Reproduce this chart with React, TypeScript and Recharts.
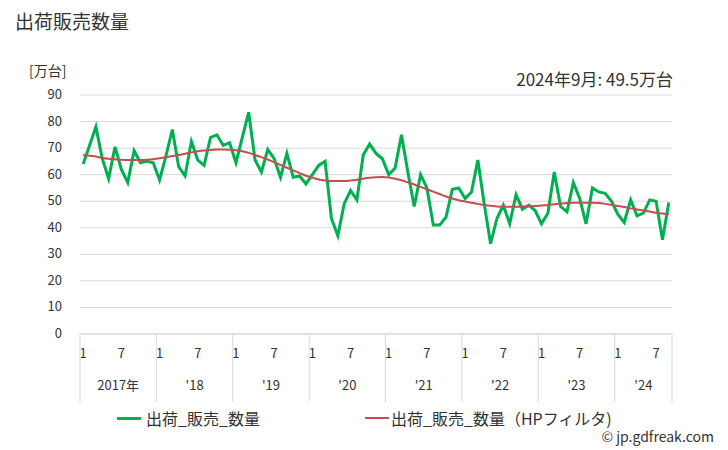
import { LineChart, Line, XAxis, YAxis, CartesianGrid } from "recharts"

const years = [2017, 2018, 2019, 2020, 2021, 2022, 2023, 2024]
const yearLabels = ["2017年", "'18", "'19", "'20", "'21", "'22", "'23", "'24"]
const monthsInYear = [12, 12, 12, 12, 12, 12, 12, 9]
const yTicks = [0, 10, 20, 30, 40, 50, 60, 70, 80, 90]

// 出荷_販売_数量 (万台), 2017/1 .. 2024/9
const shipments = [
  64, 71, 78, 66, 58.5, 70.5, 62, 57, 69, 64.5, 65, 64.5,
  58, 67, 77, 63, 59.5, 72.5, 65.5, 63.5, 74, 75, 71, 72,
  64.5, 74, 83.5, 65.5, 61, 69.5, 66, 59, 68, 59, 59.5, 56.5,
  60, 63.5, 65, 43.5, 37, 49, 54, 50.5, 67.5, 71.5, 68, 66,
  60, 62.5, 75, 61, 48, 60, 55, 41, 41, 44, 54.5, 55,
  51, 53.5, 65.5, 49, 34, 43.5, 48.5, 41.5, 52.5, 47, 48.5, 46.5,
  41.5, 45.5, 61, 48, 46, 57, 51, 41.5, 55, 53.5, 53, 50,
  45, 42, 50.5, 44.5, 45.5, 50.5, 50, 35.5, 49.5,
]

// HPフィルタ trend
const trend = [
  67.4, 67.1, 66.8, 66.3, 66.0, 65.8, 65.6, 65.5, 65.5, 65.5, 65.6, 65.8,
  66.2, 66.6, 67.0, 67.4, 67.9, 68.4, 68.8, 69.1, 69.3, 69.5, 69.5, 69.4,
  69.2, 68.8, 68.2, 67.4, 66.6, 65.7, 64.7, 63.7, 62.6, 61.6, 60.6, 59.6,
  58.9, 58.2, 57.8, 57.6, 57.6, 57.6, 57.8, 58.1, 58.5, 58.8, 59.0, 59.1,
  58.9, 58.5, 57.9, 57.1, 56.3, 55.4, 54.5, 53.6, 52.7, 51.8, 51.0, 50.4,
  49.9, 49.4, 49.0, 48.6, 48.3, 48.0, 47.9, 47.9, 47.9, 48.0, 48.1, 48.2,
  48.4, 48.6, 48.9, 49.1, 49.3, 49.4, 49.4, 49.4, 49.4, 49.3, 49.0, 48.6,
  48.2, 47.8, 47.3, 46.9, 46.5, 46.1, 45.7, 45.4, 45.1,
]

const periods = years.flatMap((y, yi) =>
  Array.from({ length: monthsInYear[yi] }, (_, m) => ({ year: y, yi, month: m + 1 }))
)

const data = periods.map((p, i) => ({
  key: `${p.year}-${p.month}`,
  shipments: shipments[i],
  trend: trend[i],
}))

const W = 728
const H = 450
const PLOT_LEFT = 80
const PLOT_RIGHT = 672
const PLOT_BOTTOM = 334
const BAND = (PLOT_RIGHT - PLOT_LEFT) / data.length
const FONT = "'Noto Sans CJK JP', 'Noto Sans', sans-serif"
const GREEN = "#00b050"
const RED = "#c0504d"
const GRID = "#d9d9d9"

function MonthTick(props: any) {
  const { x, index } = props
  const p = periods[index]
  if (!p) return null
  const els: any[] = []
  if (p.month === 1 || p.month === 7) {
    els.push(
      <text key="m" x={x} y={PLOT_BOTTOM + 24} textAnchor="middle" fontSize={13} fill="#333" fontFamily={FONT}>
        {p.month}
      </text>
    )
  }
  if (p.month === 1) {
    const left = x - BAND / 2
    els.push(<line key="s" x1={left} x2={left} y1={PLOT_BOTTOM} y2={PLOT_BOTTOM + 68} stroke={GRID} />)
    els.push(
      <text key="y" x={left + (monthsInYear[p.yi] * BAND) / 2} y={PLOT_BOTTOM + 56} textAnchor="middle" fontSize={13} fill="#333" fontFamily={FONT}>
        {yearLabels[p.yi]}
      </text>
    )
  }
  if (index === periods.length - 1) {
    const right = x + BAND / 2
    els.push(<line key="e" x1={right} x2={right} y1={PLOT_BOTTOM} y2={PLOT_BOTTOM + 68} stroke={GRID} />)
  }
  return <g>{els}</g>
}

function ValueTick(props: any) {
  const { y, payload } = props
  return (
    <text x={62} y={y} dy={4} textAnchor="end" fontSize={13} fill="#333" fontFamily={FONT}>
      {payload.value}
    </text>
  )
}

export default function App() {
  return (
    <div style={{ position: "absolute", left: 0, top: 0, width: W, height: H, background: "#fff", fontFamily: FONT, color: "#333" }}>
      <div style={{ position: "absolute", left: 15, top: 7, fontSize: 19 }}>出荷販売数量</div>
      <div style={{ position: "absolute", left: 29, top: 60, fontSize: 14 }}>[万台]</div>
      <div style={{ position: "absolute", right: 728 - 673, top: 66, fontSize: 17 }}>2024年9月: 49.5万台</div>
      <LineChart width={W} height={H} data={data} margin={{ top: 95, right: W - PLOT_RIGHT, left: 0, bottom: 16 }}>
        <CartesianGrid horizontal vertical={false} stroke={GRID} />
        <XAxis
          dataKey="key"
          height={100}
          interval={0}
          tickLine={false}
          axisLine={{ stroke: GRID }}
          padding={{ left: BAND / 2, right: BAND / 2 }}
          tick={<MonthTick />}
        />
        <YAxis width={PLOT_LEFT} domain={[0, 90]} ticks={yTicks} axisLine={false} tickLine={false} tick={<ValueTick />} />
        <Line type="linear" dataKey="shipments" stroke={GREEN} strokeWidth={3} dot={false} isAnimationActive={false} />
        <Line type="monotone" dataKey="trend" stroke={RED} strokeWidth={2} dot={false} isAnimationActive={false} />
      </LineChart>
      <div style={{ position: "absolute", left: 117, top: 406, fontSize: 16, display: "flex", alignItems: "center" }}>
        <span style={{ display: "inline-block", width: 24, height: 3, background: GREEN, marginRight: 5 }} />
        出荷_販売_数量
      </div>
      <div style={{ position: "absolute", left: 365, top: 406, fontSize: 16, display: "flex", alignItems: "center" }}>
        <span style={{ display: "inline-block", width: 24, height: 2, background: RED, marginRight: 2 }} />
        出荷_販売_数量（HPフィルタ)
      </div>
      <div style={{ position: "absolute", right: 14, top: 426, fontSize: 14 }}>© jp.gdfreak.com</div>
    </div>
  )
}
